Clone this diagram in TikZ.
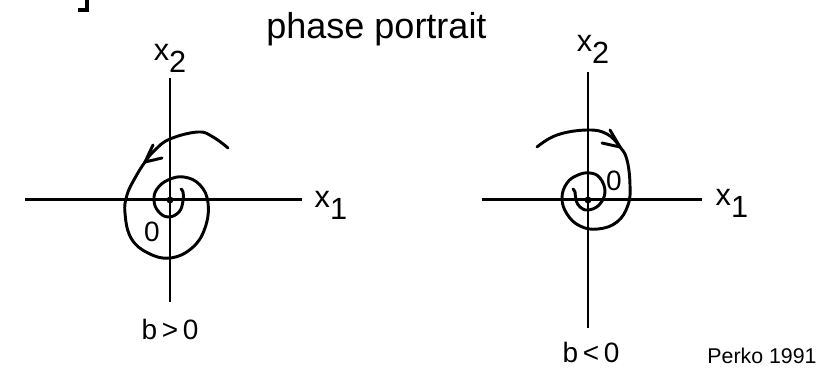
\documentclass[tikz,border=0pt]{standalone}
\usepackage{fontspec}
\setmainfont{Liberation Sans}
\newcommand{\axname}[2]{#1\raisebox{-0.4em}{#2}}

\begin{document}
\begin{tikzpicture}[x=0.75pt,y=-0.75pt,
    axis/.style={line width=2pt},
    orbit/.style={line width=2.2pt,line cap=round,line join=round},
    lbl/.style={font=\fontsize{23}{27}\selectfont},
    sign/.style={font=\fontsize{21}{24}\selectfont,anchor=base}]
    \useasboundingbox (0,0) rectangle (833,368);
    % cut-off corner mark
    \draw[line width=3pt] (78,10) -- (87,10) -- (87,0);
    \node[font=\fontsize{27}{32}\selectfont,anchor=base] (title) at (376.5,38) {phase portrait};
    \node[font=\fontsize{16}{19}\selectfont,anchor=base] (source) at (762,363) {Perko 1991};

    % left portrait, b>0
    \coordinate (lW) at (25,199.5);
    \coordinate (lE) at (302,199.5);
    \coordinate (lN) at (170,78);
    \coordinate (lS) at (170,302);
    \draw[axis] (lW) -- (lE);
    \draw[axis] (lN) -- (lS);
    \fill (170,200) circle[radius=2.6pt];
    \draw[orbit] plot[smooth,tension=0.7] coordinates {(228,148) (213,137) (198,132) (170,139) (155,150) (145,162)
      (135,178) (127,195) (125,213) (131,238) (148,253) (170,258)
      (192,248) (205,228) (208,203) (200,185) (184,177) (168,180) (157,189) (154,200) (158,211) (168,217) (179,212)
      (183,201) (183,192) (181,189)};
    \draw[orbit] (153,145) -- (145,162) -- (162,158); % hand arrow
    \node[lbl,anchor=base] (lx2) at (170,60) {\axname{x}{2}};
    \node[lbl,anchor=base west] (lx1) at (310,207) {\axname{x}{1}};
    \node[font=\fontsize{21}{24}\selectfont] (lorig) at (152,232) {0};
    \node[sign] (lsign) at (170,339) {b\,>\,0};

    % right portrait, b<0
    \coordinate (rW) at (482,199.5);
    \coordinate (rE) at (702,199.5);
    \coordinate (rN) at (588,72);
    \coordinate (rS) at (588,328);
    \draw[axis] (rW) -- (rE);
    \draw[axis] (rN) -- (rS);
    \fill (588,200) circle[radius=2.6pt];
    \draw[orbit] plot[smooth,tension=0.7] coordinates {(537,147) (557,135) (587,130) (607,134) (620,147)
      (627,160) (630,185) (628,205) (617,222) (598,229)
      (580,226) (567,214) (562,198) (567,183) (578,175) (590,173) (600,178) (605,192) (599,205) (588,210)
      (580,207) (576,200) (575,192) (573,189)};
    \draw[orbit] (610,130) -- (620,147) -- (602,143); % hand arrow
    \node[lbl,anchor=base] (rx2) at (593,51) {\axname{x}{2}};
    \node[lbl,anchor=base west] (rx1) at (711,205) {\axname{x}{1}};
    \node[font=\fontsize{21}{24}\selectfont] (rorig) at (614,181) {0};
    \node[sign] (rsign) at (591,362) {b\,<\,0};
  \end{tikzpicture}
\end{document}
